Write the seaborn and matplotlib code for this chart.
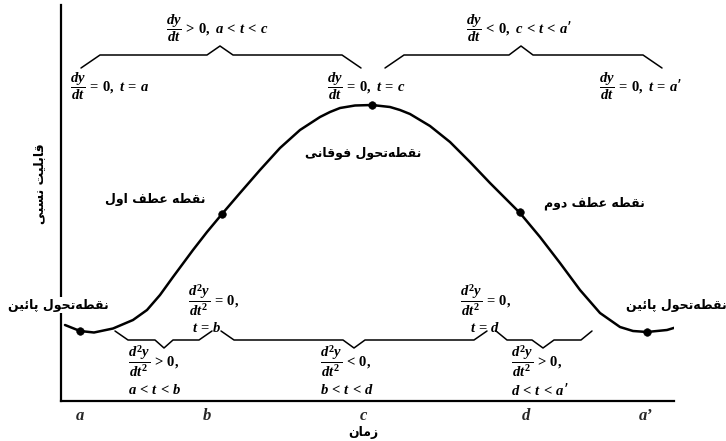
import numpy as np
import seaborn as sns
import matplotlib.pyplot as plt

# curve (time units along x, relative capability along y)
time = [4, 19, 33, 52, 72, 86, 99, 112, 132, 146, 161, 179, 199, 219, 239, 259, 269, 279,
        294, 311, 329, 339, 349, 369, 389, 409, 429, 449, 459, 479, 499, 519, 539, 559,
        572, 586, 606, 616, 627]
capability = [76, 70, 68.5, 72.5, 81, 91, 106, 124, 151, 169, 187, 208, 231, 253, 271, 284,
              289, 293, 295.5, 296, 294, 291, 287, 275, 259, 239, 218, 198, 188, 164, 138,
              111, 88, 74, 70, 69, 71, 74, 78]

# marked points: lower turn, first inflection, upper turn, second inflection, lower turn
point_time = [19, 161, 311, 459, 586]
point_cap = [70, 187, 296, 189, 69]

tick_pos = [19, 146, 303, 465, 584]
tick_labels = ['$a$', '$b$', '$c$', '$d$', '$a$\u2019']


def shape_fa(text):
    """Join Persian letters into presentation forms and put them in visual order."""
    forms = {
        'ا': (0xFE8D, False), 'ب': (0xFE8F, True), 'پ': (0xFB56, True), 'ت': (0xFE95, True),
        'ح': (0xFEA1, True), 'د': (0xFEA9, False), 'ز': (0xFEAF, False), 'س': (0xFEB1, True),
        'ط': (0xFEC1, True), 'ع': (0xFEC9, True), 'ف': (0xFED1, True), 'ق': (0xFED5, True),
        'ل': (0xFEDD, True), 'م': (0xFEE1, True), 'ن': (0xFEE5, True), 'ه': (0xFEE9, True),
        'و': (0xFEED, False), 'ئ': (0xFE89, True), 'ی': (0xFBFC, True),
    }
    out = []
    for i, ch in enumerate(text):
        if ch not in forms:
            if ch != '\u200c':
                out.append(ch)
            continue
        base, dual = forms[ch]
        prev = text[i - 1] if i > 0 else ''
        nxt = text[i + 1] if i + 1 < len(text) else ''
        joins_prev = prev in forms and forms[prev][1]
        joins_next = dual and nxt in forms
        if joins_prev and joins_next:
            code = base + 3
        elif joins_prev:
            code = base + 1
        elif joins_next:
            code = base + 2
        else:
            code = base
        out.append(chr(code))
    return ''.join(reversed(out))


def brace(x0, x1, xm, y_end, y_bar, y_tip, slope, tip):
    xs = [x0, x0 + slope, xm - tip, xm, xm + tip, x1 - slope, x1]
    ys = [y_end, y_bar, y_bar, y_tip, y_bar, y_bar, y_end]
    return xs, ys


sns.set_theme(style='white')
plt.rcParams['font.family'] = ['DejaVu Sans']
plt.rcParams['mathtext.fontset'] = 'custom'
plt.rcParams['mathtext.rm'] = 'Liberation Serif:bold'
plt.rcParams['mathtext.it'] = 'Liberation Serif:italic:bold'
plt.rcParams['mathtext.bf'] = 'Liberation Serif:bold'

fig = plt.figure(figsize=(7.26, 4.41), dpi=100)
ax = fig.add_axes([61 / 726, 40 / 441, 613 / 726, 396 / 441])

sns.lineplot(x=time, y=capability, ax=ax, color='black', linewidth=1.8, sort=False)
sns.scatterplot(x=point_time, y=point_cap, ax=ax, color='black', s=30, edgecolor='black',
                zorder=5)

ax.set_xlim(0, 613)
ax.set_ylim(0, 396)
ax.set_xticks(tick_pos)
ax.set_xticklabels(tick_labels, fontsize=12, fontweight='bold', family='Liberation Serif')
ax.set_yticks([])
ax.tick_params(axis='x', length=0, pad=5)
sns.despine(ax=ax)
for side in ['left', 'bottom']:
    ax.spines[side].set_color('black')
    ax.spines[side].set_linewidth(1.6)

fa = dict(fontsize=9, fontweight='bold', color='black')
ax.set_xlabel(shape_fa('زمان'), **fa)
ax.xaxis.set_label_coords(0.493, -0.062)
ax.set_ylabel(shape_fa('قابلیت نسبی'), **fa)
ax.yaxis.set_label_coords(-0.024, 0.55)

# first derivative braces and notes
for xs, ys in [brace(20, 300, 159, 333, 346, 355, 19, 13),
               brace(324, 601, 460, 333, 346, 355, 19, 12)]:
    ax.plot(xs, ys, color='black', linewidth=1.1, clip_on=False)

mt = dict(fontsize=10.5, color='black', ha='center', va='center')
ax.text(156, 373, r'$\dfrac{dy}{dt} \,>\, 0,\ a \,<\, t \,<\, c$', **mt)
ax.text(458, 373, '$\\dfrac{dy}{dt} \\,<\\, 0,\\ c \\,<\\, t \\,<\\, a$\u2019', **mt)
ax.text(49, 315, r'$\dfrac{dy}{dt} \,=\, 0,\ t \,=\, a$', **mt)
ax.text(305, 315, r'$\dfrac{dy}{dt} \,=\, 0,\ t \,=\, c$', **mt)
ax.text(579, 315, '$\\dfrac{dy}{dt} \\,=\\, 0,\\ t \\,=\\, a$\u2019', **mt)

# second derivative braces and notes
for xs, ys in [brace(54, 151, 103, 70, 61, 53, 13, 9),
               brace(160, 426, 293, 70, 61, 53, 13, 11),
               brace(435, 531, 482, 70, 61, 53, 11, 11)]:
    ax.plot(xs, ys, color='black', linewidth=1.1, clip_on=False)

ml = dict(fontsize=10.5, color='black', ha='left', va='center')
notes = [
    (127, 101, r'$\dfrac{d^2y}{dt^2} \,=\, 0,$', 131, 74, r'$t \,=\, b$'),
    (399, 101, r'$\dfrac{d^2y}{dt^2} \,=\, 0,$', 409, 74, r'$t \,=\, d$'),
    (67, 40, r'$\dfrac{d^2y}{dt^2} \,>\, 0,$', 67, 11, r'$a \,<\, t \,<\, b$'),
    (259, 40, r'$\dfrac{d^2y}{dt^2} \,<\, 0,$', 259, 11, r'$b \,<\, t \,<\, d$'),
    (450, 40, r'$\dfrac{d^2y}{dt^2} \,>\, 0,$', 450, 11, '$d \\,<\\, t \\,<\\, a$\u2019'),
]
for fx, fy, frac, cx, cy, cond in notes:
    ax.text(fx, fy, frac, **ml)
    ax.text(cx, cy, cond, **ml)

# Persian point names
ax.text(-3, 96, shape_fa('نقطه\u200cتحول پائین'), ha='center', va='center', clip_on=False,
        bbox=dict(facecolor='white', edgecolor='none', pad=1), zorder=6, **fa)
ax.text(94, 201, shape_fa('نقطه عطف اول'), ha='center', va='center', **fa)
ax.text(302, 247, shape_fa('نقطه\u200cتحول فوقانی'), ha='center', va='center', **fa)
ax.text(533, 198, shape_fa('نقطه عطف دوم'), ha='center', va='center', **fa)
ax.text(615, 96, shape_fa('نقطه\u200cتحول پائین'), ha='center', va='center', clip_on=False, **fa)

fig.savefig('out.png', dpi=100)
